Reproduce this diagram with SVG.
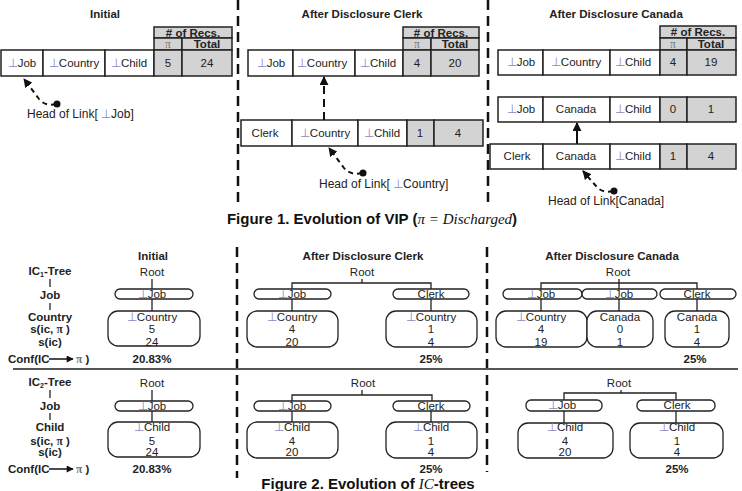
<svg xmlns="http://www.w3.org/2000/svg" width="742" height="491" viewBox="0 0 742 491">
<defs>
<style>
text{font-family:"Liberation Sans",Arial,sans-serif;font-size:11.5px;fill:#222;text-anchor:middle}
.b{font-weight:bold}
.t{font-weight:bold;font-size:11.5px}
.bot{fill:#8a88c6}
.pi{font-family:"Liberation Serif","DejaVu Serif",serif;fill:#777}
.c{fill:#fff;stroke:#222;stroke-width:1.5}
.g{fill:#d3d3d3;stroke:#222;stroke-width:1.5}
.sep{stroke:#111;stroke-width:2.5;stroke-dasharray:10 6;fill:none}
.ln{stroke:#222;stroke-width:1.3;fill:none}
.pill{fill:#fff;stroke:#222;stroke-width:1.3}
.box{fill:#fff;stroke:#222;stroke-width:1.3}
.hl{stroke:#111;stroke-width:2;stroke-dasharray:5 4;fill:none}
.hlt{font-size:12px;text-anchor:start}
.cap{font-weight:bold;font-size:15px;fill:#111}
.math{font-family:"Liberation Serif","DejaVu Serif",serif;font-style:italic;font-weight:normal}
</style>
<marker id="ah" viewBox="0 0 10 10" refX="9" refY="5" markerWidth="9" markerHeight="9" markerUnits="userSpaceOnUse" orient="auto"><path d="M0,0 L10,5 L0,10 z" fill="#111"/></marker>
<marker id="ah2" viewBox="0 0 10 10" refX="9" refY="5" markerWidth="8" markerHeight="7" markerUnits="userSpaceOnUse" orient="auto"><path d="M0,0 L10,5 L0,10 z" fill="#111"/></marker>
</defs>
<rect width="742" height="491" fill="#fff"/>

<!-- separators -->
<g id="separators">
<line class="sep" x1="238" y1="0" x2="238" y2="205"/>
<line class="sep" x1="488" y1="0" x2="488" y2="207"/>
<line class="sep" x1="237" y1="247" x2="237" y2="478"/>
<line class="sep" x1="487" y1="247" x2="487" y2="472"/>
<line x1="13" y1="369" x2="738" y2="369" stroke="#555" stroke-width="2"/>
</g>

<!-- Figure 1 titles -->
<text class="t" x="105" y="18">Initial</text>
<text class="t" x="362" y="18">After Disclosure Clerk</text>
<text class="t" x="616" y="18">After Disclosure Canada</text>

<!-- VIP Initial -->
<g id="vip-initial">
<rect class="g" x="154" y="27" width="78" height="11"/>
<rect class="g" x="154" y="38" width="28" height="12"/>
<rect class="g" x="182" y="38" width="50" height="12"/>
<text class="b" x="193" y="36.5"># of Recs.</text>
<text class="pi" x="168" y="48">π</text>
<text class="b" x="207" y="48">Total</text>
<rect class="c" x="1" y="50" width="42" height="26"/>
<rect class="c" x="43" y="50" width="62" height="26"/>
<rect class="c" x="105" y="50" width="49" height="26"/>
<rect class="g" x="154" y="50" width="28" height="26"/>
<rect class="g" x="182" y="50" width="50" height="26"/>
<text x="22" y="67"><tspan class="bot">⊥</tspan>Job</text>
<text x="74" y="67"><tspan class="bot">⊥</tspan>Country</text>
<text x="129" y="67"><tspan class="bot">⊥</tspan>Child</text>
<text x="168" y="67">5</text>
<text x="207" y="67">24</text>
</g>

<!-- VIP Clerk -->
<g id="vip-clerk-top">
<rect class="g" x="403" y="27" width="76" height="11"/>
<rect class="g" x="403" y="38" width="28" height="12"/>
<rect class="g" x="431" y="38" width="48" height="12"/>
<text class="b" x="441" y="36.5"># of Recs.</text>
<text class="pi" x="417" y="48">π</text>
<text class="b" x="455" y="48">Total</text>
<rect class="c" x="248" y="50" width="45" height="26"/>
<rect class="c" x="293" y="50" width="62" height="26"/>
<rect class="c" x="355" y="50" width="48" height="26"/>
<rect class="g" x="403" y="50" width="28" height="26"/>
<rect class="g" x="431" y="50" width="48" height="26"/>
<text x="271" y="67"><tspan class="bot">⊥</tspan>Job</text>
<text x="322" y="67"><tspan class="bot">⊥</tspan>Country</text>
<text x="378" y="67"><tspan class="bot">⊥</tspan>Child</text>
<text x="417" y="67">4</text>
<text x="455" y="67">20</text>
</g>
<g id="vip-clerk-bottom">
<rect class="c" x="241" y="120" width="51" height="26"/>
<rect class="c" x="292" y="120" width="66" height="26"/>
<rect class="c" x="358" y="120" width="49" height="26"/>
<rect class="g" x="407" y="120" width="27" height="26"/>
<rect class="g" x="434" y="120" width="49" height="26"/>
<text x="265" y="137">Clerk</text>
<text x="325" y="137"><tspan class="bot">⊥</tspan>Country</text>
<text x="382" y="137"><tspan class="bot">⊥</tspan>Child</text>
<text x="420" y="137">1</text>
<text x="458" y="137">4</text>
</g>

<!-- VIP Canada -->
<g id="vip-canada-top">
<rect class="g" x="660" y="26" width="76" height="12"/>
<rect class="g" x="660" y="38" width="27" height="12"/>
<rect class="g" x="687" y="38" width="49" height="12"/>
<text class="b" x="698" y="36"># of Recs.</text>
<text class="pi" x="673" y="48">π</text>
<text class="b" x="711" y="48">Total</text>
<rect class="c" x="498" y="50" width="45" height="25"/>
<rect class="c" x="543" y="50" width="67" height="25"/>
<rect class="c" x="610" y="50" width="50" height="25"/>
<rect class="g" x="660" y="50" width="27" height="25"/>
<rect class="g" x="687" y="50" width="49" height="25"/>
<text x="521" y="66"><tspan class="bot">⊥</tspan>Job</text>
<text x="576" y="66"><tspan class="bot">⊥</tspan>Country</text>
<text x="633" y="66"><tspan class="bot">⊥</tspan>Child</text>
<text x="673" y="66">4</text>
<text x="711" y="66">19</text>
</g>
<g id="vip-canada-mid">
<rect class="c" x="498" y="97" width="45" height="25"/>
<rect class="c" x="543" y="97" width="67" height="25"/>
<rect class="c" x="610" y="97" width="50" height="25"/>
<rect class="g" x="660" y="97" width="27" height="25"/>
<rect class="g" x="687" y="97" width="49" height="25"/>
<text x="521" y="113"><tspan class="bot">⊥</tspan>Job</text>
<text x="576" y="113">Canada</text>
<text x="633" y="113"><tspan class="bot">⊥</tspan>Child</text>
<text x="673" y="113">0</text>
<text x="711" y="113">1</text>
</g>
<g id="vip-canada-bottom">
<rect class="c" x="490" y="144" width="53" height="25"/>
<rect class="c" x="543" y="144" width="67" height="25"/>
<rect class="c" x="610" y="144" width="50" height="25"/>
<rect class="g" x="660" y="144" width="27" height="25"/>
<rect class="g" x="687" y="144" width="49" height="25"/>
<text x="517" y="160">Clerk</text>
<text x="576" y="160">Canada</text>
<text x="633" y="160"><tspan class="bot">⊥</tspan>Child</text>
<text x="673" y="160">1</text>
<text x="711" y="160">4</text>
</g>

<!-- VIP connectors -->
<g id="vip-connectors">
<line x1="324" y1="120" x2="324" y2="77" stroke="#111" stroke-width="2" stroke-dasharray="8 5" marker-end="url(#ah)"/>
<line x1="577" y1="144" x2="577" y2="123" stroke="#111" stroke-width="2" marker-end="url(#ah)"/>
<path class="hl" d="M56,104 C49,106 43,104 39,99 L24,79" marker-end="url(#ah)"/>
<circle cx="57" cy="104" r="3.5" fill="#111"/>
<path class="hl" d="M362,173 C355,175 348,173 344,168 L329,148" marker-end="url(#ah)"/>
<circle cx="363" cy="173" r="3.5" fill="#111"/>
<path class="hl" d="M613,191 C606,193 600,191 596,186 L583,171" marker-end="url(#ah)"/>
<circle cx="614" cy="191" r="3.5" fill="#111"/>
</g>
<text class="hlt" x="27" y="118">Head of Link[ <tspan class="bot">⊥</tspan>Job]</text>
<text class="hlt" x="319" y="188">Head of Link[ <tspan class="bot">⊥</tspan>Country]</text>
<text class="hlt" x="548" y="205">Head of Link[Canada]</text>

<text class="cap" x="372" y="224">Figure 1. Evolution of VIP (<tspan class="math">π = Discharged</tspan>)</text>

<!-- Figure 2 titles -->
<text class="t" x="153" y="260">Initial</text>
<text class="t" x="363" y="260">After Disclosure Clerk</text>
<text class="t" x="612" y="260">After Disclosure Canada</text>

<!-- IC1 legend -->
<g id="ic1-legend">
<text class="b" x="50" y="275">IC<tspan font-size="7" dy="2">1</tspan><tspan dy="-2">-Tree</tspan></text>
<line class="ln" x1="50" y1="279" x2="50" y2="287"/>
<text class="b" x="50" y="299">Job</text>
<line class="ln" x1="50" y1="303" x2="50" y2="310"/>
<text class="b" x="50" y="321">Country</text>
<text class="b" x="50" y="333">s(ic, <tspan class="pi" style="fill:#333">π</tspan>  )</text>
<text class="b" x="50" y="346">s(ic)</text>
<text class="b" x="8" y="363" style="text-anchor:start">Conf(IC</text>
<line x1="49" y1="359" x2="73" y2="359" stroke="#111" stroke-width="1.5" marker-end="url(#ah2)"/>
<text class="b" x="76" y="363" style="text-anchor:start"><tspan class="pi">π</tspan> )</text>
</g>

<!-- IC1 Initial -->
<g id="ic1-initial">
<text x="152" y="276">Root</text>
<line class="ln" x1="152" y1="279" x2="152" y2="289"/>
<rect class="pill" x="115" y="289" width="78" height="10" rx="5"/>
<text x="152" y="298"><tspan class="bot">⊥</tspan>Job</text>
<line class="ln" x1="152" y1="299" x2="152" y2="311"/>
<rect class="box" x="108" y="311" width="92" height="35" rx="10"/>
<text x="152" y="321"><tspan class="bot">⊥</tspan>Country</text>
<text x="152" y="333">5</text>
<text x="152" y="346">24</text>
<text class="b" x="152" y="363">20.83%</text>
</g>

<!-- IC1 Clerk -->
<g id="ic1-clerk">
<text x="362" y="276">Root</text>
<path class="ln" d="M362,279 V283 M292,289 V283 H431 V289"/>
<rect class="pill" x="254" y="289" width="77" height="10" rx="5"/>
<text x="292" y="298"><tspan class="bot">⊥</tspan>Job</text>
<rect class="pill" x="393" y="289" width="76" height="10" rx="5"/>
<text x="431" y="298">Clerk</text>
<path class="ln" d="M292,299 V311 M431,299 V311"/>
<rect class="box" x="247" y="311" width="91" height="36" rx="10"/>
<text x="292" y="321"><tspan class="bot">⊥</tspan>Country</text>
<text x="292" y="333">4</text>
<text x="292" y="346">20</text>
<rect class="box" x="386" y="311" width="91" height="36" rx="10"/>
<text x="431" y="321"><tspan class="bot">⊥</tspan>Country</text>
<text x="431" y="333">1</text>
<text x="431" y="346">4</text>
<text class="b" x="431" y="363">25%</text>
</g>

<!-- IC1 Canada -->
<g id="ic1-canada">
<text x="618" y="276">Root</text>
<path class="ln" d="M619,279 V289 M541,289 V283 H697 V289"/>
<rect class="pill" x="503" y="289" width="79" height="10" rx="5"/>
<text x="541" y="298"><tspan class="bot">⊥</tspan>Job</text>
<rect class="pill" x="582" y="289" width="75" height="10" rx="5"/>
<text x="619" y="298"><tspan class="bot">⊥</tspan>Job</text>
<rect class="pill" x="660" y="289" width="76" height="10" rx="5"/>
<text x="697" y="298">Clerk</text>
<path class="ln" d="M541,299 V311 M619,299 V311 M697,299 V311"/>
<rect class="box" x="496" y="311" width="91" height="36" rx="10"/>
<text x="541" y="321"><tspan class="bot">⊥</tspan>Country</text>
<text x="541" y="333">4</text>
<text x="541" y="346">19</text>
<rect class="box" x="587" y="311" width="66" height="36" rx="10"/>
<text x="620" y="321">Canada</text>
<text x="620" y="333">0</text>
<text x="620" y="346">1</text>
<rect class="box" x="665" y="311" width="64" height="36" rx="10"/>
<text x="697" y="321">Canada</text>
<text x="697" y="333">1</text>
<text x="697" y="346">4</text>
<text class="b" x="695" y="363">25%</text>
</g>

<!-- IC2 legend -->
<g id="ic2-legend">
<text class="b" x="50" y="386">IC<tspan font-size="7" dy="2">2</tspan><tspan dy="-2">-Tree</tspan></text>
<line class="ln" x1="50" y1="390" x2="50" y2="398"/>
<text class="b" x="50" y="410">Job</text>
<line class="ln" x1="50" y1="413" x2="50" y2="420"/>
<text class="b" x="50" y="431">Child</text>
<text class="b" x="50" y="445">s(ic, <tspan class="pi" style="fill:#333">π</tspan>  )</text>
<text class="b" x="50" y="456">s(ic)</text>
<text class="b" x="8" y="473" style="text-anchor:start">Conf(IC</text>
<line x1="49" y1="469" x2="73" y2="469" stroke="#111" stroke-width="1.5" marker-end="url(#ah2)"/>
<text class="b" x="76" y="473" style="text-anchor:start"><tspan class="pi">π</tspan> )</text>
</g>

<!-- IC2 Initial -->
<g id="ic2-initial">
<text x="152" y="387">Root</text>
<line class="ln" x1="152" y1="390" x2="152" y2="401"/>
<rect class="pill" x="115" y="401" width="78" height="10" rx="5"/>
<text x="152" y="410"><tspan class="bot">⊥</tspan>Job</text>
<line class="ln" x1="152" y1="411" x2="152" y2="422"/>
<rect class="box" x="108" y="422" width="92" height="35" rx="10"/>
<text x="152" y="431"><tspan class="bot">⊥</tspan>Child</text>
<text x="152" y="445">5</text>
<text x="152" y="456">24</text>
<text class="b" x="152" y="473">20.83%</text>
</g>

<!-- IC2 Clerk -->
<g id="ic2-clerk">
<text x="363" y="387">Root</text>
<path class="ln" d="M362,390 V395 M292,401 V395 H432 V401"/>
<rect class="pill" x="254" y="401" width="77" height="10" rx="5"/>
<text x="292" y="410"><tspan class="bot">⊥</tspan>Job</text>
<rect class="pill" x="393" y="401" width="77" height="10" rx="5"/>
<text x="431" y="410">Clerk</text>
<path class="ln" d="M292,411 V422 M431,411 V422"/>
<rect class="box" x="247" y="422" width="91" height="36" rx="10"/>
<text x="292" y="431"><tspan class="bot">⊥</tspan>Child</text>
<text x="292" y="445">4</text>
<text x="292" y="456">20</text>
<rect class="box" x="386" y="422" width="91" height="36" rx="10"/>
<text x="431" y="431"><tspan class="bot">⊥</tspan>Child</text>
<text x="431" y="445">1</text>
<text x="431" y="456">4</text>
<text class="b" x="431" y="473">25%</text>
</g>

<!-- IC2 Canada -->
<g id="ic2-canada">
<text x="619" y="387">Root</text>
<path class="ln" d="M621,390 V393 M564,400 V393 H676 V400"/>
<rect class="pill" x="526" y="400" width="76" height="11" rx="5"/>
<text x="562" y="409"><tspan class="bot">⊥</tspan>Job</text>
<rect class="pill" x="637" y="400" width="78" height="11" rx="5"/>
<text x="677" y="409">Clerk</text>
<path class="ln" d="M564,411 V423 M676,411 V423"/>
<rect class="box" x="518" y="423" width="95" height="35" rx="10"/>
<text x="565" y="431"><tspan class="bot">⊥</tspan>Child</text>
<text x="565" y="445">4</text>
<text x="565" y="456">20</text>
<rect class="box" x="630" y="423" width="93" height="35" rx="10"/>
<text x="677" y="431"><tspan class="bot">⊥</tspan>Child</text>
<text x="677" y="445">1</text>
<text x="677" y="456">4</text>
<text class="b" x="677" y="473">25%</text>
</g>

<text class="cap" x="368" y="489">Figure 2. Evolution of <tspan class="math">IC</tspan>-trees</text>
</svg>
